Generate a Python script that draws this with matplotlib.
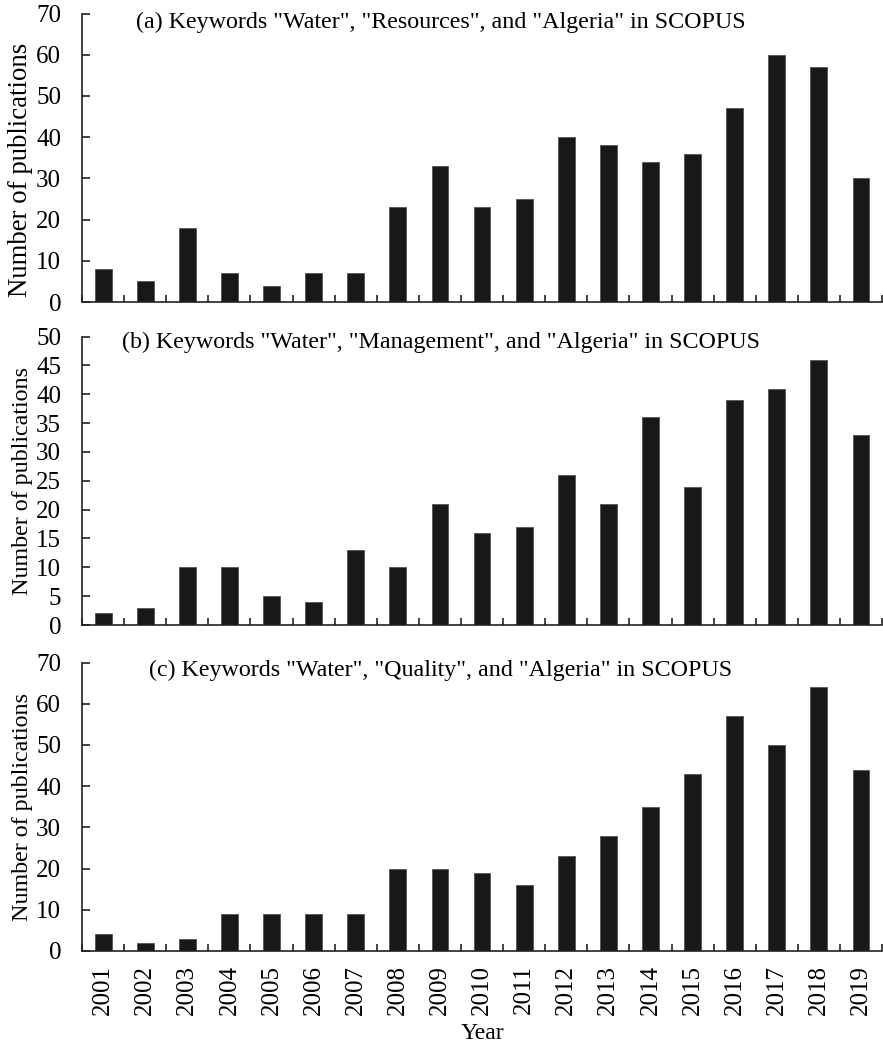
import matplotlib
matplotlib.use("Agg")
import matplotlib.pyplot as plt
import numpy as np

years = [str(y) for y in range(2001, 2020)]
resources = [8, 5, 18, 7, 4, 7, 7, 23, 33, 23, 25, 40, 38, 34, 36, 47, 60, 57, 30]
management = [2, 3, 10, 10, 5, 4, 13, 10, 21, 16, 17, 26, 21, 36, 24, 39, 41, 46, 33]
quality = [4, 2, 3, 9, 9, 9, 9, 20, 20, 19, 16, 23, 28, 35, 43, 57, 50, 64, 44]

titles = [
    '(a) Keywords "Water", "Resources", and "Algeria" in SCOPUS',
    '(b) Keywords "Water", "Management", and "Algeria" in SCOPUS',
    '(c) Keywords "Water", "Quality", and "Algeria" in SCOPUS',
]
ylims = [70, 50, 70]
ysteps = [10, 5, 10]

plt.rcParams['font.family'] = ['Liberation Serif', 'DejaVu Serif']
plt.rcParams['font.size'] = 18

fig = plt.figure(figsize=(8.83, 10.45), dpi=100)
bottoms = [0.7110, 0.4019, 0.0900]
height = 0.2760
left, width = 0.0929, 0.9060
title_y = [0.979, 0.672, 0.358]
ylabel_size = [19.3, 17.3, 17.3]
ylabel_y = [0.458, 0.5, 0.5]

x = np.arange(len(years))
series = [resources, management, quality]
for i, (vals, ttl, ym, st) in enumerate(zip(series, titles, ylims, ysteps)):
    ax = fig.add_axes([left, bottoms[i], width, height])
    ax.bar(x, vals, width=0.4, color='#181818', edgecolor='#555555', linewidth=0.6)
    ax.set_xlim(-0.5, len(years) - 0.5)
    ax.set_ylim(0, ym)
    ax.set_yticks(np.arange(0, ym + 1, st))
    ax.spines['top'].set_visible(False)
    ax.spines['right'].set_visible(False)
    for s in ('left', 'bottom'):
        ax.spines[s].set_linewidth(1.2)
        ax.spines[s].set_color('#222222')
    ax.tick_params(axis='y', direction='in', length=6, width=1.2, color='#222222',
                   pad=15, labelsize=18)
    ax.set_xticks(x)
    ax.set_xticks(np.arange(-0.5, len(years), 1.0), minor=True)
    ax.tick_params(axis='x', which='major', length=0, pad=10, labelsize=18)
    ax.tick_params(axis='x', which='minor', direction='in', length=5, width=1.2, color='#222222')
    if i == 2:
        ax.set_xticklabels(years, rotation=90)
        ax.set_xlabel('Year', labelpad=6, fontsize=17)
    else:
        ax.set_xticklabels([])
    ax.set_ylabel('Number of publications', fontsize=ylabel_size[i])
    ax.yaxis.set_label_coords(-0.061, ylabel_y[i])
    fig.text(0.499, title_y[i], ttl, ha='center', va='center', fontsize=17.3)

fig.savefig('out.png', dpi=100)
